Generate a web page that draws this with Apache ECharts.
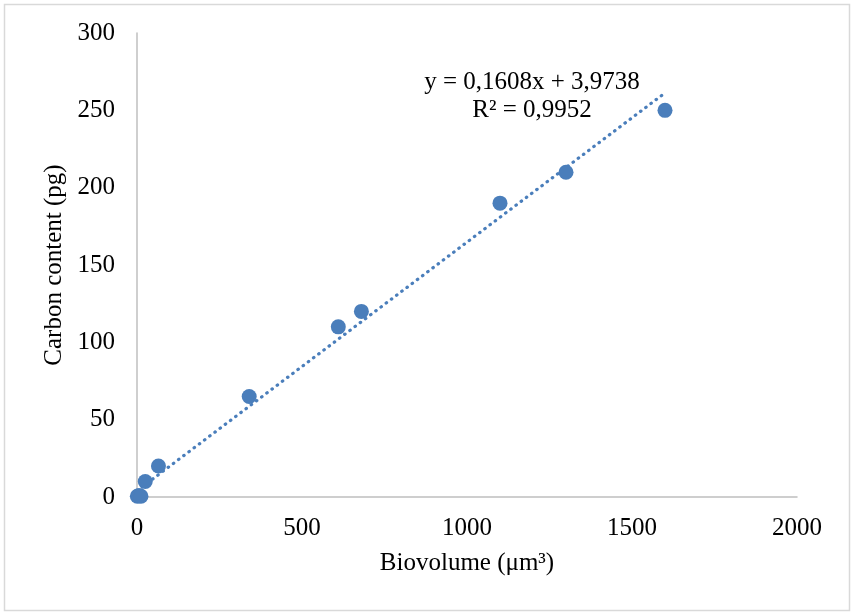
<!DOCTYPE html>
<html>
<head>
<meta charset="utf-8">
<script src="https://cdn.jsdelivr.net/npm/echarts@6/dist/echarts.min.js"></script>
<style>
  html, body { margin: 0; padding: 0; background: #fff; }
  #chart { width: 854px; height: 615px; }
</style>
</head>
<body>
<div id="chart"></div>
<script>
// measured points (biovolume µm³, carbon pg)
const biovolume = [1, 6, 12, 25, 65, 340, 610, 680, 1100, 1300, 1600];
const carbon = [0.5, 1, 0.5, 10, 20, 65, 110, 120, 190, 210, 250];

// Excel linear trendline
const slope = 0.1608;
const intercept = 3.9738;
const trendRange = [0, 1600];
const equationLines = ["y = 0,1608x + 3,9738", "R² = 0,9952"];

const color = "#4a7ebb";
const font = "Liberation Serif";
const fontSize = 25;

const points = biovolume.map((x, i) => [x, carbon[i]]);
const trend = trendRange.map((x) => [x, slope * x + intercept]);

const chart = echarts.init(document.getElementById("chart"), null, { renderer: "canvas" });

const labelStyle = { fontFamily: font, fontSize: fontSize, color: "#000" };

chart.setOption({
  animation: false,
  textStyle: { fontFamily: font },
  grid: { left: 137, right: 57, top: 33, bottom: 118 },
  graphic: [
    {
      type: "rect",
      shape: { x: 4.5, y: 4.5, width: 845, height: 606 },
      style: { fill: "none", stroke: "#d9d9d9", lineWidth: 1.5 },
      silent: true,
    },
    // trendline label, one text per line so both are centred
    ...equationLines.map((line, i) => ({
      type: "text",
      style: {
        x: 532,
        y: 82 + i * 28,
        text: line,
        textAlign: "center",
        textVerticalAlign: "middle",
        fontFamily: font,
        fontSize: fontSize,
        fill: "#000",
      },
    })),
  ],
  xAxis: {
    type: "value",
    min: 0,
    max: 2000,
    interval: 500,
    name: "Biovolume (μm³)",
    nameLocation: "middle",
    nameGap: 54,
    nameTextStyle: labelStyle,
    axisLine: { show: true, lineStyle: { color: "#bfbfbf", width: 1.5 } },
    axisTick: { show: false },
    splitLine: { show: false },
    axisLabel: { ...labelStyle, margin: 19, formatter: (v) => String(v) },
  },
  yAxis: {
    type: "value",
    min: 0,
    max: 300,
    interval: 50,
    name: "Carbon content (pg)",
    nameLocation: "middle",
    nameGap: 68,
    nameRotate: 90,
    nameTextStyle: labelStyle,
    axisLine: { show: true, lineStyle: { color: "#bfbfbf", width: 1.5 } },
    axisTick: { show: false },
    splitLine: { show: false },
    axisLabel: { ...labelStyle, margin: 22 },
  },
  series: [
    {
      name: "trend",
      type: "line",
      data: trend,
      symbol: "none",
      lineStyle: { color: color, width: 3.2, type: [0.5, 6], cap: "round" },
      z: 1,
    },
    {
      name: "carbon",
      type: "scatter",
      data: points,
      symbolSize: 15,
      itemStyle: { color: color, opacity: 1 },
      z: 2,
    },
  ],
});
</script>
</body>
</html>
